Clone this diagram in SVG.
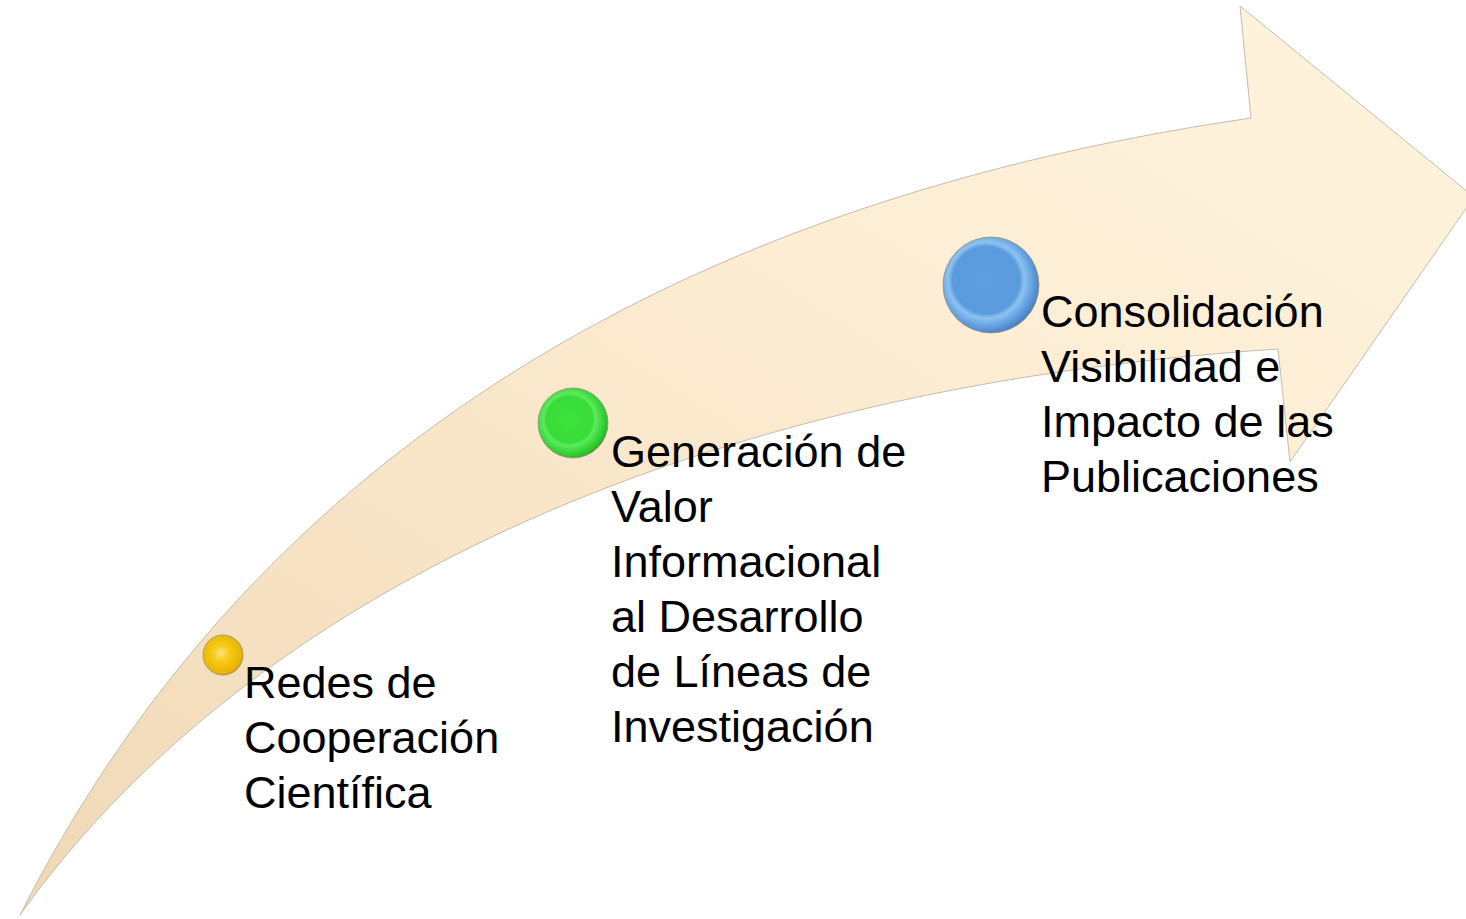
<svg xmlns="http://www.w3.org/2000/svg" width="1466" height="919" viewBox="0 0 1466 919">
<defs>
<linearGradient id="arrowFill" x1="0" y1="1" x2="1" y2="0">
<stop offset="0" stop-color="#EFD8B6"/>
<stop offset="0.35" stop-color="#F8E4C6"/>
<stop offset="0.7" stop-color="#FDEFD6"/>
<stop offset="1" stop-color="#FEF3DD"/>
</linearGradient>
<radialGradient id="gYellow" cx="0.45" cy="0.45" r="0.6">
<stop offset="0" stop-color="#FFE27A"/>
<stop offset="0.35" stop-color="#F7C91A"/>
<stop offset="0.85" stop-color="#E8B400"/>
<stop offset="1" stop-color="#B8900A"/>
</radialGradient>
<radialGradient id="gGreen" cx="0.45" cy="0.45" r="0.6">
<stop offset="0" stop-color="#3FE43F"/>
<stop offset="0.55" stop-color="#38DC38"/>
<stop offset="0.62" stop-color="#5BEB5B"/>
<stop offset="0.85" stop-color="#2FCB2F"/>
<stop offset="1" stop-color="#249A24"/>
</radialGradient>
<radialGradient id="gBlue" cx="0.45" cy="0.45" r="0.6">
<stop offset="0" stop-color="#5D9EE0"/>
<stop offset="0.58" stop-color="#5A9BDD"/>
<stop offset="0.66" stop-color="#8DC2F2"/>
<stop offset="0.86" stop-color="#5593D6"/>
<stop offset="1" stop-color="#3F73AE"/>
</radialGradient>
</defs>
<style>
.lbl{font-family:"Liberation Sans",Arial,sans-serif;font-size:45px;fill:#000000}
.arrow{fill:url(#arrowFill);stroke:#C4BCAC;stroke-width:1}
.dot{stroke:#9C8F74;stroke-width:0.8}
</style>
<rect width="1466" height="919" fill="#FFFFFF"/>
<g id="arrow">
<path class="arrow" d="M20,915 C230,500 620,210 1251,118 L1240,6 L1474,197 L1290,462 L1278,349 C650,390 230,620 20,915 Z"/>
</g>
<g id="connectors"></g>
<g id="node1">
<circle class="dot" cx="223" cy="655" r="20" fill="url(#gYellow)"/>
<text class="lbl" x="244" y="698">Redes de</text>
<text class="lbl" x="244" y="753">Cooperación</text>
<text class="lbl" x="244" y="808">Científica</text>
</g>
<g id="node2">
<circle class="dot" cx="573" cy="423" r="35" fill="url(#gGreen)"/>
<text class="lbl" x="611" y="467">Generación de</text>
<text class="lbl" x="611" y="522">Valor</text>
<text class="lbl" x="611" y="577">Informacional</text>
<text class="lbl" x="611" y="632">al Desarrollo</text>
<text class="lbl" x="611" y="687">de Líneas de</text>
<text class="lbl" x="611" y="742">Investigación</text>
</g>
<g id="node3">
<circle class="dot" cx="991" cy="285" r="48" fill="url(#gBlue)"/>
<text class="lbl" x="1041" y="327">Consolidación</text>
<text class="lbl" x="1041" y="382">Visibilidad e</text>
<text class="lbl" x="1041" y="437">Impacto de las</text>
<text class="lbl" x="1041" y="492">Publicaciones</text>
</g>
</svg>
